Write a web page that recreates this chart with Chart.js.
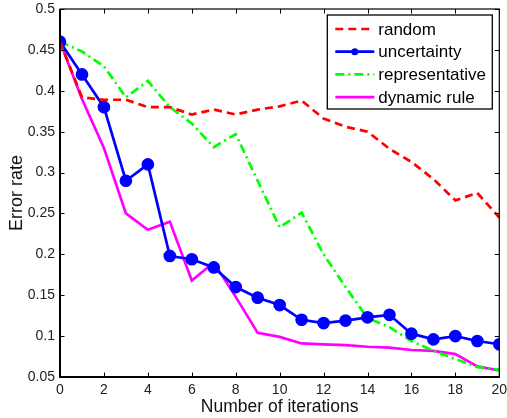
<!DOCTYPE html>
<html>
<head>
<meta charset="utf-8">
<script src="https://cdn.jsdelivr.net/npm/chart.js@4.4.0/dist/chart.umd.min.js"></script>
<style>
  html, body { margin: 0; padding: 0; background: #fff; }
  #wrap { width: 507px; height: 418px; }
</style>
</head>
<body>
<div id="wrap"><canvas id="chart"></canvas></div>
<script>
const iterations = [0, 1, 2, 3, 4, 5, 6, 7, 8, 9, 10, 11, 12, 13, 14, 15, 16, 17, 18, 19, 20];
const randomErr = [0.46, 0.392, 0.389, 0.389, 0.380, 0.380, 0.371, 0.377, 0.371, 0.377, 0.381, 0.388, 0.366, 0.356, 0.350, 0.329, 0.313, 0.292, 0.266, 0.275, 0.245];
const uncertaintyErr = [0.46, 0.420, 0.380, 0.290, 0.310, 0.198, 0.194, 0.184, 0.160, 0.147, 0.138, 0.120, 0.116, 0.119, 0.123, 0.126, 0.103, 0.096, 0.100, 0.094, 0.090];
const representativeErr = [0.46, 0.448, 0.430, 0.392, 0.412, 0.380, 0.360, 0.331, 0.347, 0.290, 0.233, 0.251, 0.200, 0.160, 0.122, 0.111, 0.094, 0.082, 0.072, 0.062, 0.059];
const dynamicErr = [0.46, 0.390, 0.330, 0.250, 0.230, 0.240, 0.168, 0.190, 0.148, 0.104, 0.099, 0.091, 0.090, 0.089, 0.087, 0.086, 0.083, 0.082, 0.078, 0.063, 0.058];
const xTicks = [0, 2, 4, 6, 8, 10, 12, 14, 16, 18, 20];
const yTicks = [0.05, 0.1, 0.15, 0.2, 0.25, 0.3, 0.35, 0.4, 0.45, 0.5];

const toPoints = arr => arr.map((v, i) => ({ x: iterations[i], y: v }));

// frame with inward ticks on all four sides (matlab style)
const frame = {
    id: 'frame',
    afterDraw(chart) {
        const ctx = chart.ctx;
        const a = chart.chartArea;
        const xs = chart.scales.x, ys = chart.scales.y;
        ctx.save();
        ctx.strokeStyle = '#000';
        ctx.lineWidth = 1;
        ctx.beginPath();
        xTicks.forEach(t => {
            const px = Math.round(xs.getPixelForValue(t)) + 0.5;
            ctx.moveTo(px, a.bottom); ctx.lineTo(px, a.bottom - 4.5);
            ctx.moveTo(px, a.top); ctx.lineTo(px, a.top + 4.5);
        });
        yTicks.forEach(t => {
            const py = Math.round(ys.getPixelForValue(t)) + 0.5;
            ctx.moveTo(a.left, py); ctx.lineTo(a.left + 4.5, py);
            ctx.moveTo(a.right, py); ctx.lineTo(a.right - 4.5, py);
        });
        ctx.stroke();
        ctx.lineWidth = 1.2;
        ctx.strokeRect(a.left, a.top, a.right - a.left, a.bottom - a.top);
        // left and bottom axis lines are a bit heavier
        ctx.lineWidth = 2;
        ctx.beginPath();
        ctx.moveTo(a.left, a.top);
        ctx.lineTo(a.left, a.bottom);
        ctx.lineTo(a.right, a.bottom);
        ctx.stroke();
        ctx.restore();
    }
};

// legend box in the upper right corner
const boxLegend = {
    id: 'boxLegend',
    afterDraw(chart) {
        const ctx = chart.ctx;
        const a = chart.chartArea;
        const w = 165, h = 94;
        const x0 = a.right - 7 - w, y0 = a.top + 6;
        ctx.save();
        ctx.fillStyle = '#fff';
        ctx.fillRect(x0, y0, w, h);
        ctx.strokeStyle = '#000';
        ctx.lineWidth = 1.3;
        ctx.strokeRect(x0, y0, w, h);
        ctx.font = '17px "Liberation Sans", Arial, sans-serif';
        ctx.textBaseline = 'middle';
        chart.data.datasets.forEach((ds, i) => {
            const y = y0 + 14 + i * 22.7;
            ctx.strokeStyle = ds.borderColor;
            ctx.lineWidth = ds.borderWidth;
            ctx.setLineDash(ds.borderDash || []);
            ctx.beginPath();
            ctx.moveTo(x0 + 8, y);
            ctx.lineTo(x0 + 47, y);
            ctx.stroke();
            ctx.setLineDash([]);
            if (ds.pointRadius > 0) {
                ctx.fillStyle = ds.borderColor;
                ctx.beginPath();
                ctx.arc(x0 + 27.5, y, 3.5, 0, Math.PI * 2);
                ctx.fill();
            }
            ctx.fillStyle = '#000';
            ctx.fillText(ds.label, x0 + 51, y + 1);
        });
        ctx.restore();
    }
};

const tickFont = { family: '"Liberation Sans", Arial, sans-serif', size: 14 };

new Chart(document.getElementById('chart'), {
    type: 'line',
    data: {
        datasets: [
            {
                label: 'random',
                data: toPoints(randomErr),
                borderColor: '#ff0000',
                borderWidth: 2.7,
                borderDash: [8, 5],
                pointRadius: 0
            },
            {
                label: 'uncertainty',
                data: toPoints(uncertaintyErr),
                borderColor: '#0000ff',
                backgroundColor: '#0000ff',
                borderWidth: 2.7,
                pointRadius: 5,
                pointHoverRadius: 5
            },
            {
                label: 'representative',
                data: toPoints(representativeErr),
                borderColor: '#00ff00',
                borderWidth: 2.7,
                borderDash: [9, 4, 2, 4],
                pointRadius: 0
            },
            {
                label: 'dynamic rule',
                data: toPoints(dynamicErr),
                borderColor: '#ff00ff',
                borderWidth: 2.7,
                pointRadius: 0
            }
        ]
    },
    options: {
        responsive: true,
        maintainAspectRatio: false,
        animation: false,
        layout: { padding: { top: 9, right: 7, left: 0, bottom: 0 } },
        plugins: {
            legend: { display: false },
            tooltip: { enabled: false }
        },
        scales: {
            x: {
                type: 'linear',
                min: 0,
                max: 20,
                afterBuildTicks: s => { s.ticks = xTicks.map(v => ({ value: v })); },
                grid: { display: false, drawTicks: false, tickLength: 0 },
                border: { display: false },
                ticks: { font: tickFont, color: '#222', padding: 5, maxRotation: 0 },
                title: {
                    display: true,
                    text: 'Number of iterations',
                    font: { family: '"Liberation Sans", Arial, sans-serif', size: 17.5 },
                    color: '#111',
                    padding: { top: 0, bottom: 0 }
                },
                afterFit: s => { s.height = 41; s.paddingLeft = 0; s.paddingRight = 0; }
            },
            y: {
                min: 0.05,
                max: 0.5,
                afterBuildTicks: s => { s.ticks = yTicks.map(v => ({ value: v })); },
                grid: { display: false, drawTicks: false, tickLength: 0 },
                border: { display: false },
                ticks: {
                    font: tickFont,
                    color: '#222',
                    padding: 5,
                    callback: v => String(parseFloat(v.toFixed(2)))
                },
                title: {
                    display: true,
                    text: 'Error rate',
                    font: { family: '"Liberation Sans", Arial, sans-serif', size: 18 },
                    color: '#111',
                    padding: { top: 6, bottom: 0 }
                },
                afterFit: s => { s.width = 60; s.paddingTop = 0; s.paddingBottom = 0; }
            }
        }
    },
    plugins: [frame, boxLegend]
});
</script>
</body>
</html>
